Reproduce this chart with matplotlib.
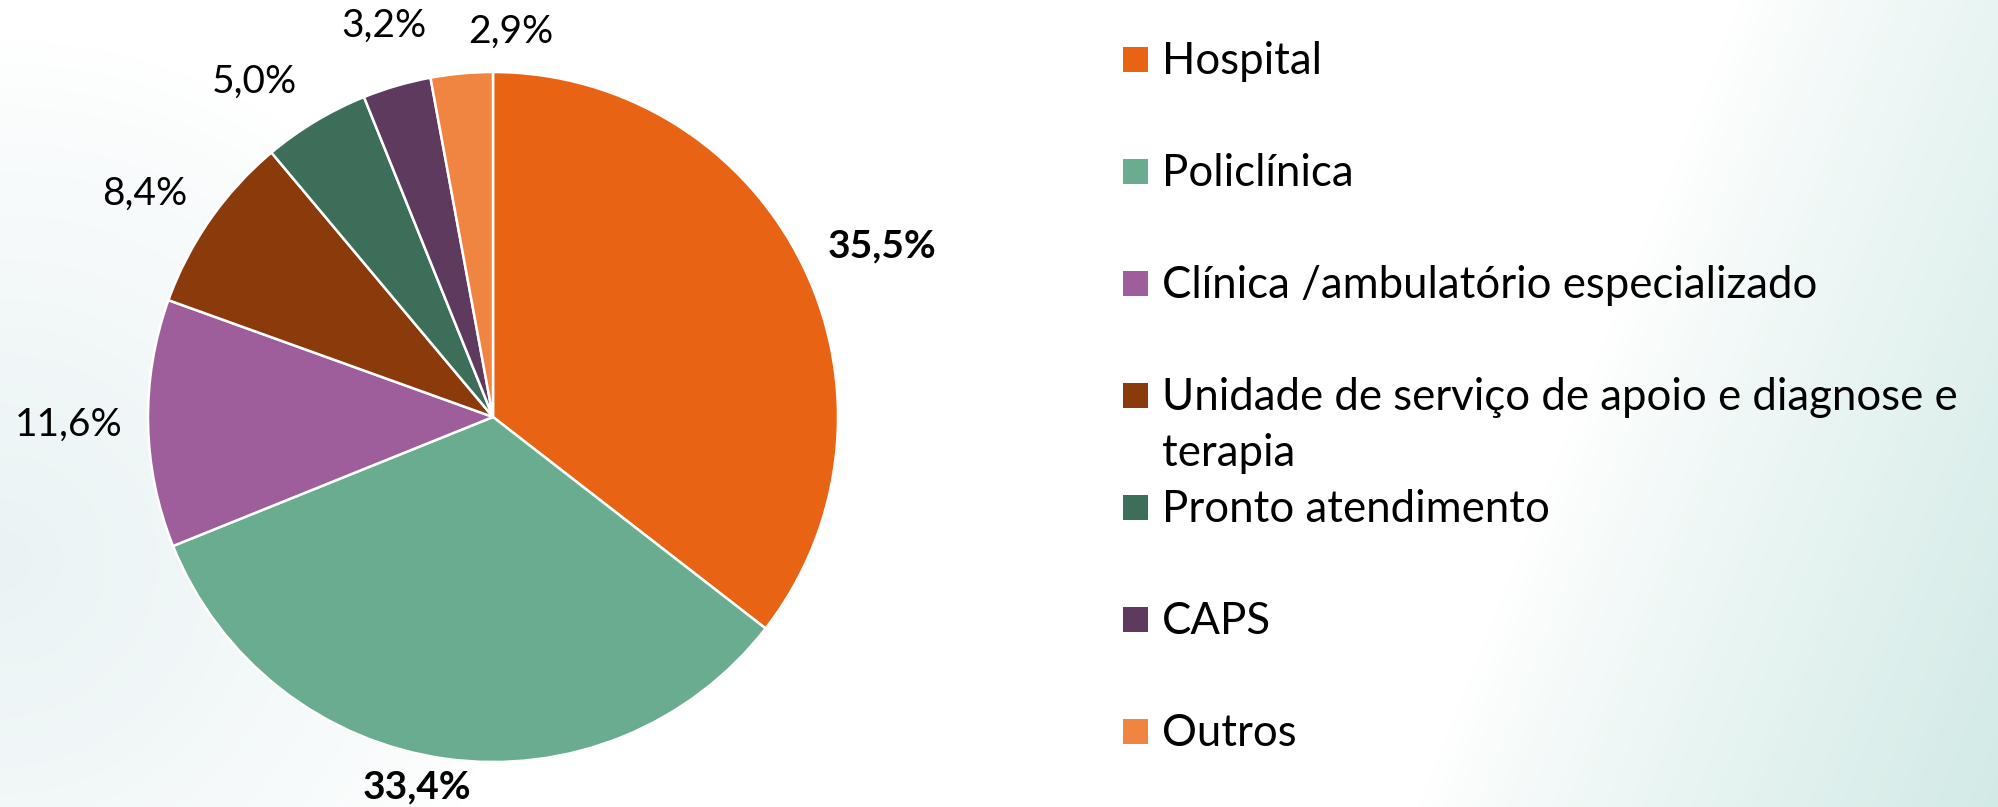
import numpy as np
import matplotlib
matplotlib.use("Agg")
import matplotlib.pyplot as plt
from matplotlib.patches import Rectangle

# ---- data ----
categories = ["Hospital", "Policlínica", "Clínica /ambulatório especializado",
              "Unidade de serviço de apoio e diagnose e\nterapia",
              "Pronto atendimento", "CAPS", "Outros"]
values = [35.5, 33.4, 11.6, 8.4, 5.0, 3.2, 2.9]
value_labels = ["35,5%", "33,4%", "11,6%", "8,4%", "5,0%", "3,2%", "2,9%"]

# ---- style ----
colors = ["#E96314", "#6AAC8F", "#9E5E9B", "#8B3A0B", "#3D6E59", "#5E3A5E", "#F08541"]
label_bold = [True, True, False, False, False, False, False]
label_r = [1.232, 1.094, 1.229, 1.200, 1.193, 1.178, 1.117]
label_dang = [-2.4, -3.7, 0.0, 2.3, 4.5, -0.6, -7.9]
FONT = ["Lato", "DejaVu Sans"]

W, H = 1999, 807
fig = plt.figure(figsize=(W / 100, H / 100), dpi=100)

# background gradient
yy, xx = np.mgrid[0:H, 0:W].astype(float)
bg = np.ones((H, W, 3))
teal = np.array([210, 234, 230]) / 255.0
t = np.clip((xx - 1740 + 0.4 * yy) / (W - 1740 + 0.4 * H), 0, 1) ** 0.85
bg = bg * (1 - t[..., None]) + teal * t[..., None]
glow = np.array([234, 243, 244]) / 255.0
d = np.sqrt((xx - 0) ** 2 + (yy - 560) ** 2)
g = np.clip(1 - d / 520, 0, 1) ** 0.8
bg = bg * (1 - g[..., None]) + glow * g[..., None]
bax = fig.add_axes([0, 0, 1, 1])
bax.imshow(bg, extent=[0, W, H, 0], aspect="auto")
bax.set_xlim(0, W)
bax.set_ylim(H, 0)
bax.axis("off")

# pie
cx, cy, R = 493, 417, 345
ax = fig.add_axes([(cx - R) / W, (H - cy - R) / H, 2 * R / W, 2 * R / H])
wedges, _ = ax.pie(values, colors=colors, startangle=90, counterclock=False,
                   radius=1.0, wedgeprops=dict(edgecolor="white", linewidth=1.8))
ax.set_xlim(-1, 1)
ax.set_ylim(-1, 1)
ax.set_aspect("equal")
ax.axis("off")

for w, lab, b, r, da in zip(wedges, value_labels, label_bold, label_r, label_dang):
    ang = np.deg2rad((w.theta1 + w.theta2) / 2 + da)
    ax.text(r * np.cos(ang), r * np.sin(ang), lab, ha="center", va="center",
            fontsize=28, fontweight="bold" if b else "normal", family=FONT,
            color="black", clip_on=False)

# legend (manual, Excel-like fixed row spacing)
base0, step, line_gap = 74, 112, 56
for i, (cat, col) in enumerate(zip(categories, colors)):
    yb = base0 + i * step
    sq = 25
    bax.add_patch(Rectangle((1123, yb - 15 - sq / 2), sq, sq, facecolor=col,
                            edgecolor="none"))
    for j, line in enumerate(cat.split("\n")):
        bax.text(1162, yb + j * line_gap, line, ha="left", va="baseline",
                 fontsize=31.5, family=FONT, color="black")

fig.savefig("out.png", dpi=100)
